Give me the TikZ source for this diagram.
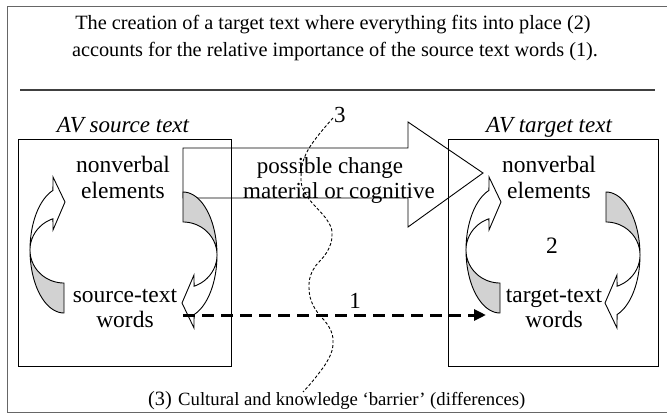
\documentclass[tikz,border=0pt]{standalone}
\usepackage{fontspec}
\setmainfont{Liberation Serif}
\usetikzlibrary{arrows.meta}
\newcommand\twistarrow{%
  \filldraw[fill=gray!35] (-34,0) -- plot[domain=0:90,samples=30] ({-34*cos(\x)},{63*sin(\x)}) -- (0,33) -- plot[domain=0:90,samples=30] ({-34*cos(90-\x)},{33*sin(90-\x)}) -- cycle;
  \filldraw[fill=white] (-34,0) -- plot[domain=0:71,samples=30] ({-34*cos(\x)},{-63*sin(\x)}) -- (-11,-73) -- (1,-48) -- (-11,-20) -- plot[domain=0:71,samples=30] ({-34*cos(71-\x)},{-33*sin(71-\x)}) -- cycle;
}
\tikzset{
  lbl/.style={inner sep=0pt, anchor=base, font=\fontsize{23.5}{27}\selectfont},
  mid/.style={inner sep=0pt, anchor=base, font=\fontsize{23}{27}\selectfont},
  ttl/.style={inner sep=0pt, anchor=base, font=\fontsize{20.3}{24}\selectfont},
  avt/.style={inner sep=0pt, anchor=base, font=\fontsize{23}{27}\selectfont\itshape},
  thin line/.style={line width=0.9pt},
  barrier/.style={line width=0.9pt, dash pattern=on 3pt off 2pt},
  bigdash/.style={line width=3pt, dash pattern=on 12pt off 7pt, -{Triangle[length=12pt,width=11pt]}},
}
\begin{document}
\begin{tikzpicture}[x=1pt,y=-1pt, line join=miter]
\useasboundingbox (0,0) rectangle (667,415);
% outer frame
\draw[line width=1pt, black!60] (670,6) -- (7,6) -- (7,412) -- (670,412);
% title
\node[ttl] (t1) at (333,30) {The creation of a target text where everything fits into place (2)};
\node[ttl] (t2) at (335,56) {accounts for the relative importance of the source text words (1).};
\coordinate (r1) at (20,90);
\coordinate (r2) at (655,90);
\draw[line width=1.5pt, black!75] (r1) -- (r2);
% boxes
\node[draw, thin line, minimum width=213pt, minimum height=227pt, anchor=north west] (srcbox) at (18,139) {};
\node[draw, thin line, minimum width=210pt, minimum height=227pt, anchor=north west] (tgtbox) at (448,139) {};
\node[avt] (srct) at (123,132) {AV source text};
\node[avt] (tgtt) at (549,132) {AV target text};
% big arrow
\draw[thin line] (183,148) -- (408,148) -- (408,122) -- (483,173) -- (408,227) -- (408,198) -- (183,198) -- cycle;
\node[mid] (pc1) at (330,173) {possible change};
\node[mid] (pc2) at (339,198) {material or cognitive};
% curved arrows
\begin{scope}[thin line, shift={(64,250)}] \twistarrow \end{scope}
\begin{scope}[thin line, shift={(183,255)}, rotate=180] \twistarrow \end{scope}
\begin{scope}[thin line, shift={(500,250)}] \twistarrow \end{scope}
\begin{scope}[thin line, shift={(606,255)}, rotate=180] \twistarrow \end{scope}
% box texts
\node[lbl] (nvS1) at (123,172) {nonverbal};
\node[lbl] (nvS2) at (123,198) {elements};
\node[lbl] (wS1) at (125,302) {source-text};
\node[lbl] (wS2) at (125,327) {words};
\node[lbl] (nvT1) at (549,172) {nonverbal};
\node[lbl] (nvT2) at (549,198) {elements};
\node[lbl] (two) at (552,253) {2};
\node[lbl] (wT1) at (554,302) {target-text};
\node[lbl] (wT2) at (554,327) {words};
% barrier
\draw[barrier] plot[smooth, tension=0.7] coordinates {(333,118) (308,150) (301,177) (307,196) (327,220) (332,235) (327,252) (313,270) (309,288) (314,307) (329,327) (333,342) (329,358) (316,377) (303,392)};
\node[mid, anchor=base west] (three) at (334,122) {3};
% dashed arrow 1
\coordinate (d1) at (183,315);
\coordinate (d2) at (486,315);
\draw[bigdash] (d1) -- (d2);
\node[mid] (one) at (355,308) {1};
% bottom caption
\node[ttl, anchor=base east] (b3) at (172,405) {(3)};
\node[inner sep=0pt, anchor=base west, font=\fontsize{18.7}{22}\selectfont] (bt) at (178,405) {Cultural and knowledge ‘barrier’ (differences)};
\end{tikzpicture}
\end{document}
